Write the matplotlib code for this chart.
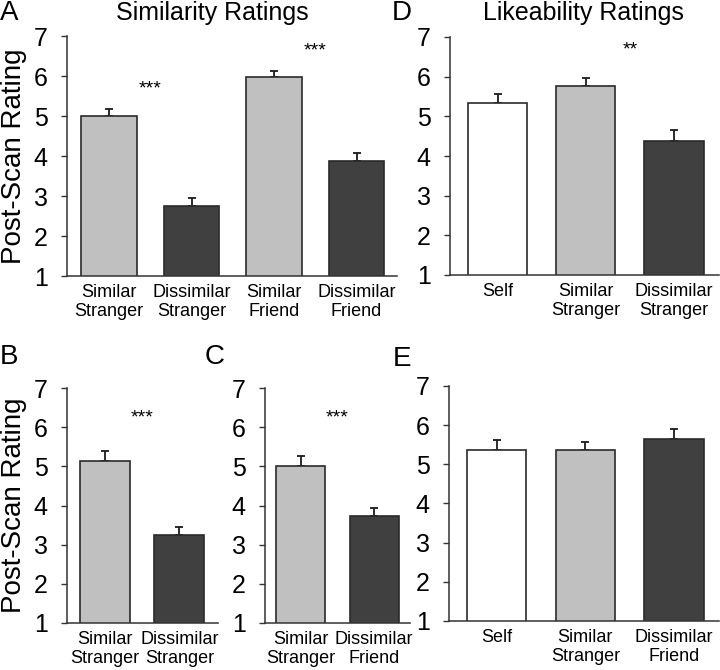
import matplotlib
matplotlib.use("Agg")
import matplotlib.pyplot as plt
import numpy as np

plt.rcParams["font.family"] = ["Liberation Sans", "DejaVu Sans"]

# Panel A - similarity ratings
a_labels = ["Similar\nStranger", "Dissimilar\nStranger", "Similar\nFriend", "Dissimilar\nFriend"]
a_means = [5.00, 2.75, 5.97, 3.87]
a_errs = [0.18, 0.19, 0.16, 0.20]
a_colors = ["#c0c0c0", "#404040", "#c0c0c0", "#404040"]

# Panel B
b_labels = ["Similar\nStranger", "Dissimilar\nStranger"]
b_means = [5.13, 3.24]
b_errs = [0.27, 0.20]
b_colors = ["#c0c0c0", "#404040"]

# Panel C
c_labels = ["Similar\nStranger", "Dissimilar\nFriend"]
c_means = [5.00, 3.72]
c_errs = [0.26, 0.21]
c_colors = ["#c0c0c0", "#404040"]

# Panel D - likeability ratings
d_labels = ["Self", "Similar\nStranger", "Dissimilar\nStranger"]
d_means = [5.33, 5.77, 4.38]
d_errs = [0.24, 0.20, 0.27]
d_colors = ["#ffffff", "#c0c0c0", "#404040"]

# Panel E
e_labels = ["Self", "Similar\nStranger", "Dissimilar\nFriend"]
e_means = [5.36, 5.36, 5.64]
e_errs = [0.26, 0.20, 0.26]
e_colors = ["#ffffff", "#c0c0c0", "#404040"]

W, H = 720, 670
fig = plt.figure(figsize=(7.2, 6.7), dpi=100)


def add_ax(left, right, top, bottom):
    return fig.add_axes([left / W, 1 - bottom / H, (right - left) / W, (bottom - top) / H])


def bar_panel(ax, labels, means, errs, colors, xlim, ylabel=None, stars=None):
    x = np.arange(len(means))
    ax.bar(x, means, width=0.67, bottom=0, color=colors, edgecolor="#2a2a2a",
           linewidth=1.2, zorder=2)
    ax.errorbar(x, means, yerr=[np.zeros(len(errs)), errs], fmt="none",
                ecolor="#1a1a1a", elinewidth=1.3, capsize=2.8, capthick=1.3, zorder=1)
    ax.set_ylim(1, 7)
    ax.set_xlim(*xlim)
    ax.set_yticks(range(1, 8))
    ax.set_xticks(x)
    ax.set_xticklabels(labels, fontsize=13, linespacing=1.1)
    ax.tick_params(axis="x", length=0, pad=6)
    ax.tick_params(axis="y", length=4, width=1, direction="out", labelsize=18, pad=10,
                   color="#333333")
    for s in ["top", "right"]:
        ax.spines[s].set_visible(False)
    for s in ["left", "bottom"]:
        ax.spines[s].set_linewidth(1.1)
        ax.spines[s].set_color("#333333")
    if ylabel:
        ax.set_ylabel(ylabel, fontsize=20, labelpad=5)
    if stars:
        for xs, ys, txt in stars:
            ax.text(xs, ys, txt, ha="center", va="center", fontsize=14)


axA = add_ax(67, 397, 36, 276)
bar_panel(axA, a_labels, a_means, a_errs, a_colors, (-0.51, 3.49),
          ylabel="Post-Scan Rating", stars=[(0.5, 5.68, "***"), (2.5, 6.63, "***")])

axD = add_ax(450, 719, 37, 275)
bar_panel(axD, d_labels, d_means, d_errs, d_colors, (-0.54, 2.51),
          stars=[(1.5, 6.68, "**")])

axB = add_ax(67, 218, 388, 623)
bar_panel(axB, b_labels, b_means, b_errs, b_colors, (-0.51, 1.52),
          ylabel="Post-Scan Rating", stars=[(0.5, 6.23, "***")])

axC = add_ax(265, 410, 388, 623)
bar_panel(axC, c_labels, c_means, c_errs, c_colors, (-0.49, 1.49),
          stars=[(0.5, 6.23, "***")])

axE = add_ax(449, 719, 386, 621)
bar_panel(axE, e_labels, e_means, e_errs, e_colors, (-0.54, 2.51))

# titles and panel letters
fig.text(212 / W, 1 - 13 / H, "Similarity Ratings", ha="center", va="center", fontsize=18)
fig.text(583 / W, 1 - 13 / H, "Likeability Ratings", ha="center", va="center", fontsize=18)
for xx, yy, letter in [(9, 13, "A"), (402, 13, "D"), (9, 357, "B"), (215, 357, "C"), (402, 359, "E")]:
    fig.text(xx / W, 1 - yy / H, letter, ha="center", va="center", fontsize=20)

fig.savefig("out.png", dpi=100)
